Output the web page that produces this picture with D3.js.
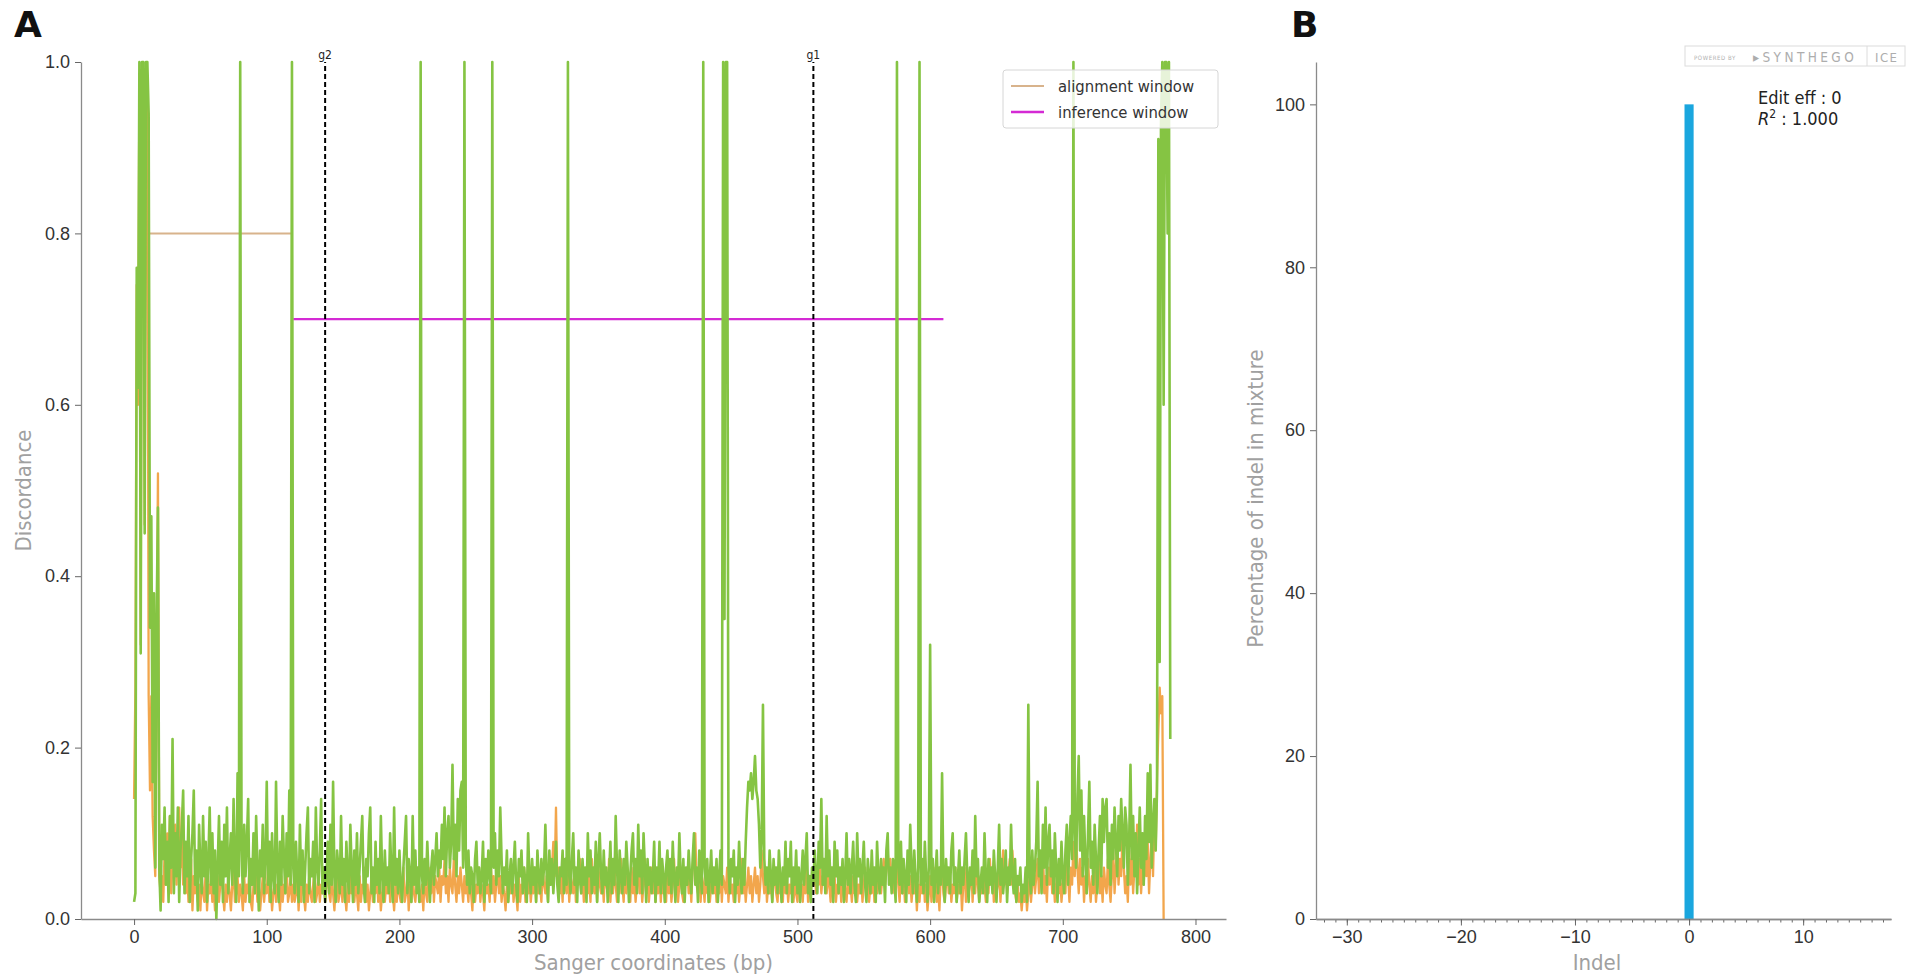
<!DOCTYPE html>
<html>
<head>
<meta charset="utf-8">
<script src="https://cdn.jsdelivr.net/npm/d3@7/dist/d3.min.js"></script>
<style>
  body { margin: 0; background: #fff; }
  svg { display: block; font-family: "DejaVu Sans Condensed", "DejaVu Sans", sans-serif; }
  .tick text { fill: #333; font-size: 18px; }
  .axis .domain { stroke: #8a8a8a; stroke-width: 1.3; }
  .axis .tick line { stroke: #666; }
  .axis-label { fill: #a0a0a0; font-size: 22px; }
  .panel-letter { font-family: "DejaVu Sans", sans-serif; font-weight: bold; font-size: 36px; fill: #111; }
</style>
</head>
<body>
<svg id="chart" width="1917" height="978"></svg>
<script>
// ---- panel A: discordance along the Sanger trace ----
const controlDiscord = [
  0.14, 0.27, 0.74, 0.60, 0.98, 0.32, 0.98, 0.98, 0.46, 0.98, 0.98, 0.26, 0.15, 0.26, 0.12, 0.08, 0.05, 0.30, 0.52, 0.05,
  0.03, 0.05, 0.02, 0.08, 0.04, 0.10, 0.06, 0.12, 0.03, 0.07, 0.05, 0.11, 0.04, 0.09, 0.13, 0.06, 0.10, 0.04, 0.08, 0.03,
  0.06, 0.02, 0.04, 0.07, 0.01, 0.05, 0.03, 0.06, 0.02, 0.04, 0.01, 0.05, 0.03, 0.02, 0.06, 0.01, 0.04, 0.03, 0.05, 0.02,
  0.04, 0.01, 0.03, 0.05, 0.02, 0.04, 0.06, 0.03, 0.01, 0.04, 0.02, 0.05, 0.03, 0.01, 0.04, 0.06, 0.02, 0.03, 0.05, 0.02,
  0.04, 0.03, 0.01, 0.05, 0.02, 0.04, 0.03, 0.06, 0.02, 0.01, 0.04, 0.03, 0.05, 0.02, 0.04, 0.01, 0.03, 0.05, 0.02, 0.04,
  0.03, 0.06, 0.02, 0.04, 0.01, 0.03, 0.05, 0.02, 0.04, 0.03, 0.01, 0.05, 0.02, 0.04, 0.03, 0.06, 0.02, 0.03, 0.05, 0.02,
  0.04, 0.02, 0.03, 0.05, 0.01, 0.04, 0.02, 0.06, 0.03, 0.01, 0.04, 0.02, 0.05, 0.03, 0.02, 0.04, 0.06, 0.02, 0.03, 0.05,
  0.02, 0.04, 0.03, 0.05, 0.02, 0.04, 0.06, 0.03, 0.02, 0.05, 0.03, 0.01, 0.04, 0.06, 0.02, 0.03, 0.05, 0.02, 0.04, 0.03,
  0.01, 0.04, 0.02, 0.05, 0.03, 0.06, 0.02, 0.04, 0.03, 0.01, 0.05, 0.02, 0.04, 0.03, 0.06, 0.02, 0.04, 0.01, 0.03, 0.05,
  0.02, 0.04, 0.03, 0.06, 0.02, 0.04, 0.01, 0.03, 0.05, 0.02, 0.04, 0.03, 0.06, 0.02, 0.05, 0.03, 0.01, 0.04, 0.02, 0.05,
  0.03, 0.02, 0.04, 0.06, 0.02, 0.03, 0.05, 0.01, 0.04, 0.02, 0.05, 0.03, 0.02, 0.04, 0.06, 0.03, 0.02, 0.04, 0.01, 0.05,
  0.03, 0.02, 0.06, 0.04, 0.03, 0.07, 0.02, 0.05, 0.04, 0.03, 0.06, 0.02, 0.05, 0.04, 0.07, 0.03, 0.05, 0.02, 0.06, 0.04,
  0.03, 0.07, 0.04, 0.02, 0.05, 0.03, 0.06, 0.04, 0.02, 0.05, 0.03, 0.04, 0.02, 0.06, 0.03, 0.01, 0.05, 0.02, 0.04, 0.03,
  0.06, 0.02, 0.04, 0.03, 0.01, 0.05, 0.03, 0.04, 0.02, 0.06, 0.03, 0.05, 0.02, 0.04, 0.07, 0.03, 0.05, 0.02, 0.04, 0.03,
  0.01, 0.04, 0.02, 0.05, 0.03, 0.06, 0.02, 0.04, 0.03, 0.01, 0.05, 0.02, 0.04, 0.03, 0.06, 0.02, 0.04, 0.03, 0.05, 0.02,
  0.04, 0.03, 0.06, 0.02, 0.05, 0.03, 0.04, 0.02, 0.06, 0.04, 0.03, 0.05, 0.02, 0.07, 0.04, 0.06, 0.09, 0.05, 0.13, 0.04,
  0.06, 0.03, 0.05, 0.02, 0.07, 0.04, 0.03, 0.06, 0.02, 0.05, 0.04, 0.03, 0.06, 0.02, 0.05, 0.04, 0.07, 0.03, 0.05, 0.02,
  0.04, 0.06, 0.03, 0.05, 0.02, 0.07, 0.04, 0.03, 0.05, 0.02, 0.06, 0.04, 0.03, 0.05, 0.02, 0.06, 0.04, 0.03, 0.07, 0.02,
  0.05, 0.03, 0.06, 0.04, 0.02, 0.05, 0.03, 0.07, 0.04, 0.02, 0.06, 0.03, 0.05, 0.04, 0.02, 0.06, 0.03, 0.05, 0.02, 0.04,
  0.06, 0.03, 0.05, 0.02, 0.04, 0.07, 0.03, 0.05, 0.02, 0.04, 0.06, 0.03, 0.05, 0.02, 0.04, 0.03, 0.06, 0.02, 0.05, 0.03,
  0.04, 0.02, 0.06, 0.03, 0.05, 0.02, 0.04, 0.07, 0.03, 0.05, 0.02, 0.04, 0.06, 0.03, 0.02, 0.05, 0.04, 0.06, 0.03, 0.05,
  0.02, 0.06, 0.08, 0.10, 0.04, 0.03, 0.06, 0.02, 0.05, 0.04, 0.02, 0.06, 0.03, 0.05, 0.02, 0.04, 0.06, 0.03, 0.05, 0.02,
  0.04, 0.03, 0.06, 0.02, 0.05, 0.04, 0.03, 0.06, 0.02, 0.05, 0.03, 0.04, 0.02, 0.06, 0.03, 0.05, 0.02, 0.04, 0.07, 0.03,
  0.05, 0.02, 0.04, 0.06, 0.03, 0.05, 0.02, 0.04, 0.06, 0.03, 0.05, 0.02, 0.04, 0.08, 0.05, 0.03, 0.06, 0.02, 0.04, 0.03,
  0.05, 0.02, 0.04, 0.06, 0.03, 0.02, 0.05, 0.03, 0.04, 0.02, 0.06, 0.03, 0.05, 0.02, 0.04, 0.03, 0.05, 0.02, 0.04, 0.03,
  0.02, 0.05, 0.03, 0.04, 0.02, 0.05, 0.03, 0.06, 0.02, 0.04, 0.03, 0.05, 0.04, 0.06, 0.03, 0.05, 0.04, 0.06, 0.03, 0.05,
  0.04, 0.06, 0.03, 0.05, 0.04, 0.02, 0.06, 0.03, 0.05, 0.02, 0.04, 0.03, 0.05, 0.02, 0.04, 0.06, 0.03, 0.02, 0.05, 0.03,
  0.04, 0.02, 0.05, 0.03, 0.06, 0.02, 0.04, 0.03, 0.05, 0.02, 0.04, 0.06, 0.03, 0.05, 0.02, 0.04, 0.03, 0.06, 0.02, 0.05,
  0.03, 0.04, 0.06, 0.03, 0.05, 0.07, 0.04, 0.06, 0.08, 0.05, 0.07, 0.04, 0.06, 0.03, 0.05, 0.07, 0.04, 0.02, 0.06, 0.03,
  0.05, 0.02, 0.04, 0.06, 0.03, 0.05, 0.02, 0.04, 0.03, 0.05, 0.01, 0.04, 0.02, 0.05, 0.03, 0.06, 0.02, 0.04, 0.01, 0.03,
  0.05, 0.02, 0.04, 0.03, 0.06, 0.02, 0.04, 0.01, 0.05, 0.07, 0.03, 0.02, 0.04, 0.06, 0.03, 0.05, 0.02, 0.04, 0.03, 0.06,
  0.02, 0.04, 0.03, 0.05, 0.01, 0.04, 0.06, 0.02, 0.05, 0.03, 0.04, 0.06, 0.02, 0.05, 0.03, 0.07, 0.04, 0.02, 0.05, 0.03,
  0.06, 0.04, 0.02, 0.05, 0.03, 0.07, 0.04, 0.06, 0.02, 0.05, 0.03, 0.04, 0.06, 0.02, 0.05, 0.08, 0.04, 0.06, 0.03, 0.05,
  0.07, 0.04, 0.08, 0.05, 0.03, 0.02, 0.04, 0.02, 0.03, 0.01, 0.03, 0.02, 0.04, 0.01, 0.03, 0.05, 0.02, 0.04, 0.06, 0.03,
  0.05, 0.07, 0.03, 0.06, 0.04, 0.08, 0.03, 0.05, 0.02, 0.06, 0.04, 0.07, 0.03, 0.05, 0.02, 0.04, 0.06, 0.03, 0.05, 0.02,
  0.04, 0.06, 0.03, 0.08, 0.05, 0.02, 0.06, 0.04, 0.09, 0.05, 0.10, 0.06, 0.03, 0.07, 0.04, 0.06, 0.02, 0.05, 0.03, 0.07,
  0.04, 0.02, 0.05, 0.03, 0.06, 0.02, 0.04, 0.07, 0.03, 0.05, 0.02, 0.06, 0.04, 0.03, 0.07, 0.04, 0.02, 0.05, 0.08, 0.03,
  0.06, 0.09, 0.04, 0.07, 0.05, 0.10, 0.06, 0.03, 0.05, 0.02, 0.07, 0.04, 0.08, 0.03, 0.06, 0.05, 0.11, 0.04, 0.07, 0.03,
  0.06, 0.04, 0.08, 0.05, 0.09, 0.03, 0.07, 0.10, 0.05, 0.12, 0.08, 0.16, 0.22, 0.27, 0.24, 0.26, 0.00
];

const editedDiscord = [
  0.02, 0.03, 0.76, 0.62, 1.00, 0.31, 1.00, 1.00, 0.45, 1.00, 1.00, 0.94, 0.34, 0.47, 0.16, 0.38, 0.06, 0.35, 0.48, 0.06,
  0.01, 0.11, 0.07, 0.13, 0.04, 0.09, 0.02, 0.12, 0.06, 0.21, 0.03, 0.10, 0.05, 0.13, 0.02, 0.08, 0.11, 0.15, 0.03, 0.09,
  0.05, 0.12, 0.02, 0.07, 0.10, 0.15, 0.04, 0.08, 0.01, 0.11, 0.06, 0.03, 0.12, 0.05, 0.09, 0.02, 0.07, 0.13, 0.04, 0.10,
  0.03, 0.08, 0.00, 0.06, 0.12, 0.04, 0.09, 0.02, 0.11, 0.05, 0.13, 0.03, 0.07, 0.10, 0.04, 0.14, 0.06, 0.02, 0.17, 0.05,
  1.00, 0.08, 0.03, 0.11, 0.05, 0.09, 0.14, 0.02, 0.07, 0.04, 0.10, 0.03, 0.12, 0.06, 0.01, 0.08, 0.05, 0.11, 0.03, 0.07,
  0.16, 0.04, 0.09, 0.02, 0.10, 0.05, 0.03, 0.16, 0.06, 0.02, 0.09, 0.04, 0.12, 0.07, 0.03, 0.10, 0.05, 0.15, 0.04, 1.00,
  0.06, 0.03, 0.09, 0.05, 0.02, 0.11, 0.04, 0.08, 0.02, 0.06, 0.10, 0.13, 0.03, 0.07, 0.05, 0.09, 0.02, 0.13, 0.06, 0.04,
  0.08, 0.14, 0.03, 0.06, 0.02, 0.05, 0.09, 0.03, 0.11, 0.04, 0.16, 0.05, 0.02, 0.08, 0.06, 0.03, 0.12, 0.04, 0.07, 0.02,
  0.09, 0.05, 0.03, 0.11, 0.06, 0.02, 0.08, 0.04, 0.10, 0.03, 0.06, 0.09, 0.12, 0.04, 0.02, 0.07, 0.05, 0.10, 0.13, 0.03,
  0.06, 0.02, 0.09, 0.04, 0.07, 0.03, 0.12, 0.05, 0.02, 0.08, 0.04, 0.06, 0.03, 0.10, 0.05, 0.02, 0.13, 0.04, 0.07, 0.03,
  0.08, 0.04, 0.02, 0.06, 0.09, 0.12, 0.03, 0.07, 0.05, 0.02, 0.12, 0.04, 0.08, 0.03, 0.06, 0.02, 1.00, 0.05, 0.03, 0.07,
  0.04, 0.09, 0.05, 0.02, 0.06, 0.08, 0.04, 0.07, 0.10, 0.05, 0.08, 0.06, 0.11, 0.07, 0.13, 0.05, 0.10, 0.12, 0.06, 0.09,
  0.18, 0.07, 0.11, 0.05, 0.14, 0.08, 0.15, 0.16, 0.06, 1.00, 0.07, 0.04, 0.08, 0.03, 0.06, 0.05, 0.02, 0.07, 0.09, 0.04,
  0.06, 0.03, 0.05, 0.09, 0.02, 0.07, 0.04, 0.08, 0.05, 0.03, 1.00, 0.06, 0.10, 0.04, 0.08, 0.05, 0.13, 0.07, 0.03, 0.06,
  0.04, 0.08, 0.02, 0.05, 0.07, 0.03, 0.06, 0.09, 0.04, 0.02, 0.07, 0.05, 0.08, 0.03, 0.06, 0.04, 0.02, 0.10, 0.05, 0.03,
  0.07, 0.04, 0.06, 0.02, 0.08, 0.05, 0.03, 0.07, 0.04, 0.06, 0.11, 0.05, 0.02, 0.08, 0.04, 0.07, 0.03, 0.06, 0.09, 0.04,
  0.02, 0.06, 0.05, 0.08, 0.03, 0.07, 0.04, 1.00, 0.05, 0.03, 0.07, 0.10, 0.04, 0.06, 0.02, 0.08, 0.05, 0.03, 0.07, 0.04,
  0.06, 0.02, 0.10, 0.05, 0.08, 0.03, 0.06, 0.04, 0.09, 0.02, 0.07, 0.10, 0.05, 0.03, 0.08, 0.04, 0.06, 0.02, 0.05, 0.09,
  0.03, 0.07, 0.04, 0.12, 0.06, 0.02, 0.08, 0.05, 0.03, 0.07, 0.04, 0.09, 0.06, 0.02, 0.05, 0.08, 0.10, 0.04, 0.07, 0.03,
  0.11, 0.05, 0.08, 0.03, 0.10, 0.06, 0.02, 0.07, 0.04, 0.06, 0.03, 0.05, 0.09, 0.02, 0.06, 0.04, 0.09, 0.03, 0.07, 0.05,
  0.02, 0.06, 0.08, 0.04, 0.07, 0.03, 0.09, 0.05, 0.02, 0.06, 0.04, 0.10, 0.05, 0.03, 0.07, 0.02, 0.06, 0.04, 0.08, 0.05,
  0.03, 0.07, 0.10, 0.04, 0.06, 0.02, 0.08, 0.05, 0.03, 1.00, 0.06, 0.04, 0.07, 0.02, 0.05, 0.08, 0.03, 0.06, 0.04, 0.07,
  0.02, 0.05, 0.08, 0.04, 1.00, 0.35, 1.00, 1.00, 0.06, 0.03, 0.07, 0.05, 0.08, 0.02, 0.06, 0.04, 0.09, 0.05, 0.03, 0.07,
  0.04, 0.09, 0.13, 0.16, 0.15, 0.17, 0.14, 0.16, 0.19, 0.15, 0.14, 0.11, 0.06, 0.09, 0.25, 0.07, 0.04, 0.06, 0.03, 0.08,
  0.05, 0.02, 0.07, 0.04, 0.06, 0.03, 0.08, 0.05, 0.02, 0.06, 0.04, 0.09, 0.03, 0.07, 0.05, 0.09, 0.02, 0.06, 0.04, 0.08,
  0.03, 0.06, 0.02, 0.05, 0.08, 0.04, 0.07, 0.10, 0.03, 0.05, 0.02, 0.06, 0.04, 0.08, 0.05, 0.03, 0.09, 0.06, 0.14, 0.04,
  0.07, 0.03, 0.12, 0.05, 0.08, 0.04, 0.06, 0.02, 0.09, 0.05, 0.08, 0.03, 0.06, 0.04, 0.07, 0.02, 0.05, 0.10, 0.04, 0.07,
  0.03, 0.06, 0.09, 0.04, 0.02, 0.10, 0.05, 0.07, 0.03, 0.06, 0.09, 0.04, 0.02, 0.07, 0.05, 0.03, 0.08, 0.04, 0.06, 0.02,
  0.09, 0.05, 0.03, 0.07, 0.04, 0.06, 0.02, 0.08, 0.10, 0.04, 0.06, 0.03, 0.07, 0.05, 0.02, 1.00, 0.06, 0.04, 0.09, 0.03,
  0.07, 0.05, 0.02, 0.08, 0.04, 0.11, 0.06, 0.03, 0.08, 0.05, 0.02, 0.06, 1.00, 0.04, 0.07, 0.03, 0.09, 0.05, 0.02, 0.06,
  0.32, 0.04, 0.07, 0.02, 0.05, 0.08, 0.03, 0.06, 0.04, 0.17, 0.05, 0.02, 0.07, 0.04, 0.06, 0.03, 0.08, 0.10, 0.04, 0.06,
  0.02, 0.05, 0.08, 0.03, 0.06, 0.04, 0.07, 0.10, 0.05, 0.02, 0.06, 0.04, 0.08, 0.03, 0.12, 0.05, 0.07, 0.02, 0.04, 0.06,
  0.03, 0.10, 0.05, 0.02, 0.07, 0.04, 0.06, 0.03, 0.08, 0.05, 0.02, 0.06, 0.11, 0.04, 0.07, 0.03, 0.05, 0.08, 0.02, 0.06,
  0.04, 0.11, 0.05, 0.03, 0.07, 0.02, 0.05, 0.04, 0.06, 0.02, 0.04, 0.03, 0.06, 0.02, 0.25, 0.05, 0.03, 0.08, 0.04, 0.06,
  0.09, 0.16, 0.05, 0.08, 0.03, 0.11, 0.06, 0.13, 0.04, 0.09, 0.11, 0.05, 0.08, 0.03, 0.10, 0.06, 0.02, 0.07, 0.04, 0.09,
  0.05, 0.03, 0.08, 0.11, 0.04, 0.09, 0.12, 0.07, 1.00, 0.10, 0.06, 0.14, 0.19, 0.08, 0.15, 0.05, 0.12, 0.07, 0.03, 0.10,
  0.16, 0.06, 0.09, 0.04, 0.11, 0.07, 0.03, 0.08, 0.12, 0.05, 0.14, 0.09, 0.13, 0.14, 0.06, 0.10, 0.04, 0.11, 0.07, 0.13,
  0.09, 0.05, 0.12, 0.08, 0.14, 0.10, 0.06, 0.13, 0.11, 0.04, 0.09, 0.18, 0.07, 0.12, 0.05, 0.10, 0.03, 0.08, 0.13, 0.06,
  0.10, 0.04, 0.12, 0.07, 0.17, 0.09, 0.18, 0.06, 0.11, 0.14, 0.08, 0.15, 0.91, 0.30, 0.93, 1.00, 0.60, 1.00, 1.00, 0.80,
  1.00, 0.21
];

const alignmentWindow = [12, 119];   // bp, drawn at discordance 0.8
const inferenceWindow = [120, 610];  // bp, drawn at discordance 0.7
const guideNames = ["g2", "g1"];
const guideCutSites = [144, 512];
const sangerTicks = [0, 100, 200, 300, 400, 500, 600, 700, 800];
const discordTicks = [0, 0.2, 0.4, 0.6, 0.8, 1.0];

// ---- panel B: indel distribution ----
const indelSizes = [0];
const indelPercent = [100];
const indelMajorTicks = [-30, -20, -10, 0, 10];
const indelMinorTicks = d3.range(-32, 18);
const percentTicks = [0, 20, 40, 60, 80, 100];
const editEff = 0;
const rSquared = 1.0;

const colors = {
  control: "#f2a64c",
  edited: "#85c443",
  alignment: "#d8b38c",
  inference: "#d42ad4",
  bar: "#1aa6de"
};

const svg = d3.select("#chart");

function drawPanelA() {
  const x = d3.scaleLinear().domain([-40, 823]).range([81, 1226]);
  const y = d3.scaleLinear().domain([0, 1]).range([919, 62]);

  const g = svg.append("g");

  // windows
  g.append("line")
    .attr("x1", x(alignmentWindow[0])).attr("x2", x(alignmentWindow[1]))
    .attr("y1", y(0.8)).attr("y2", y(0.8))
    .attr("stroke", colors.alignment).attr("stroke-width", 2);
  g.append("line")
    .attr("x1", x(inferenceWindow[0])).attr("x2", x(inferenceWindow[1]))
    .attr("y1", y(0.7)).attr("y2", y(0.7))
    .attr("stroke", colors.inference).attr("stroke-width", 2.4);

  const line = d3.line()
    .x((d, i) => x(i))
    .y(d => y(d));

  g.append("path")
    .datum(controlDiscord)
    .attr("fill", "none")
    .attr("stroke", colors.control)
    .attr("stroke-width", 2.3)
    .attr("stroke-linejoin", "round")
    .attr("d", line);

  g.append("path")
    .datum(editedDiscord)
    .attr("fill", "none")
    .attr("stroke", colors.edited)
    .attr("stroke-width", 2.6)
    .attr("stroke-linejoin", "round")
    .attr("d", line);

  // guide cut sites
  guideCutSites.forEach((site, i) => {
    g.append("line")
      .attr("x1", x(site)).attr("x2", x(site))
      .attr("y1", y(0)).attr("y2", y(1))
      .attr("stroke", "#000")
      .attr("stroke-width", 2)
      .attr("stroke-dasharray", "5,3");
    g.append("text")
      .attr("x", x(site))
      .attr("y", y(1) - 3)
      .attr("text-anchor", "middle")
      .attr("font-size", 12)
      .attr("fill", "#222")
      .text(guideNames[i]);
  });

  // axes
  g.append("g")
    .attr("class", "axis")
    .attr("transform", `translate(0,${y(0)})`)
    .call(d3.axisBottom(x).tickValues(sangerTicks).tickSize(6).tickSizeOuter(0).tickPadding(5));

  g.append("g")
    .attr("class", "axis")
    .attr("transform", `translate(${x(-40)},0)`)
    .call(d3.axisLeft(y).tickValues(discordTicks).tickFormat(d3.format(".1f")).tickSize(6).tickSizeOuter(0).tickPadding(5));

  g.append("text")
    .attr("class", "axis-label")
    .attr("x", (x(-40) + x(823)) / 2)
    .attr("y", 970)
    .attr("text-anchor", "middle")
    .text("Sanger coordinates (bp)");

  g.append("text")
    .attr("class", "axis-label")
    .attr("transform", `translate(31,${(y(0) + y(1)) / 2}) rotate(-90)`)
    .attr("text-anchor", "middle")
    .text("Discordance");

  // legend
  const legend = g.append("g").attr("transform", "translate(1003,70)");
  legend.append("rect")
    .attr("width", 215).attr("height", 58).attr("rx", 3)
    .attr("fill", "#fff").attr("fill-opacity", 0.8)
    .attr("stroke", "#d6d6d6");
  const items = [
    { label: "alignment window", color: colors.alignment, width: 2 },
    { label: "inference window", color: colors.inference, width: 2.4 }
  ];
  items.forEach((it, i) => {
    const ly = 16 + i * 26;
    legend.append("line")
      .attr("x1", 8).attr("x2", 41).attr("y1", ly).attr("y2", ly)
      .attr("stroke", it.color).attr("stroke-width", it.width);
    legend.append("text")
      .attr("x", 55).attr("y", ly + 6)
      .attr("font-size", 16.5)
      .attr("fill", "#333")
      .text(it.label);
  });

  svg.append("text").attr("class", "panel-letter").attr("x", 14).attr("y", 37).text("A");
}

function drawPanelB() {
  const x = d3.scaleLinear().domain([-32.7, 17.7]).range([1316, 1891]);
  const y = d3.scaleLinear().domain([0, 105.2]).range([919, 62]);

  const g = svg.append("g");

  const barWidth = x(0.4) - x(-0.4);
  g.selectAll("rect.bar")
    .data(indelSizes)
    .join("rect")
    .attr("class", "bar")
    .attr("x", d => x(d) - barWidth / 2)
    .attr("width", barWidth)
    .attr("y", (d, i) => y(indelPercent[i]))
    .attr("height", (d, i) => y(0) - y(indelPercent[i]))
    .attr("fill", colors.bar);

  // minor ticks first, then major axis on top
  g.append("g")
    .attr("class", "axis")
    .attr("transform", `translate(0,${y(0)})`)
    .call(d3.axisBottom(x).tickValues(indelMinorTicks).tickSize(3.5).tickFormat("").tickSizeOuter(0));

  g.append("g")
    .attr("class", "axis")
    .attr("transform", `translate(0,${y(0)})`)
    .call(d3.axisBottom(x).tickValues(indelMajorTicks).tickSize(6.5).tickSizeOuter(0).tickPadding(5));

  g.append("g")
    .attr("class", "axis")
    .attr("transform", `translate(${x(-32.7)},0)`)
    .call(d3.axisLeft(y).tickValues(percentTicks).tickSize(6).tickSizeOuter(0).tickPadding(5));

  g.append("text")
    .attr("class", "axis-label")
    .attr("x", 1597)
    .attr("y", 970)
    .attr("text-anchor", "middle")
    .text("Indel");

  g.append("text")
    .attr("class", "axis-label")
    .attr("transform", `translate(1263,${(y(0) + y(105.2)) / 2 + 8}) rotate(-90)`)
    .attr("text-anchor", "middle")
    .text("Percentage of indel in mixture");

  // stats
  const stats = g.append("text")
    .attr("x", 1758).attr("y", 104)
    .attr("font-size", 18).attr("fill", "#222");
  stats.append("tspan").text(`Edit eff : ${editEff}`);
  const r2 = g.append("text")
    .attr("x", 1758).attr("y", 125)
    .attr("font-size", 18).attr("fill", "#222");
  r2.append("tspan").attr("font-style", "italic").text("R");
  r2.append("tspan").attr("dy", -7).attr("font-size", 12).text("2");
  r2.append("tspan").attr("dy", 7).text(` : ${rSquared.toFixed(3)}`);

  // powered-by badge
  const badge = g.append("g").attr("transform", "translate(1685,46)");
  badge.append("rect")
    .attr("width", 220).attr("height", 20)
    .attr("fill", "#fff").attr("stroke", "#dcdcdc");
  badge.append("text")
    .attr("x", 9).attr("y", 13.5)
    .attr("font-size", 6).attr("fill", "#b0b0b0").attr("letter-spacing", 0.6)
    .text("POWERED BY");
  badge.append("text")
    .attr("x", 68).attr("y", 15.5)
    .attr("font-size", 13.5).attr("fill", "#adadad").attr("letter-spacing", 3.4)
    .text("▸SYNTHEGO");
  badge.append("line")
    .attr("x1", 182).attr("x2", 182).attr("y1", 0).attr("y2", 20)
    .attr("stroke", "#dcdcdc");
  badge.append("text")
    .attr("x", 190).attr("y", 15.5)
    .attr("font-size", 13).attr("fill", "#adadad").attr("letter-spacing", 1.5)
    .text("ICE");

  svg.append("text").attr("class", "panel-letter").attr("x", 1291).attr("y", 37).text("B");
}

drawPanelA();
drawPanelB();
</script>
</body>
</html>
